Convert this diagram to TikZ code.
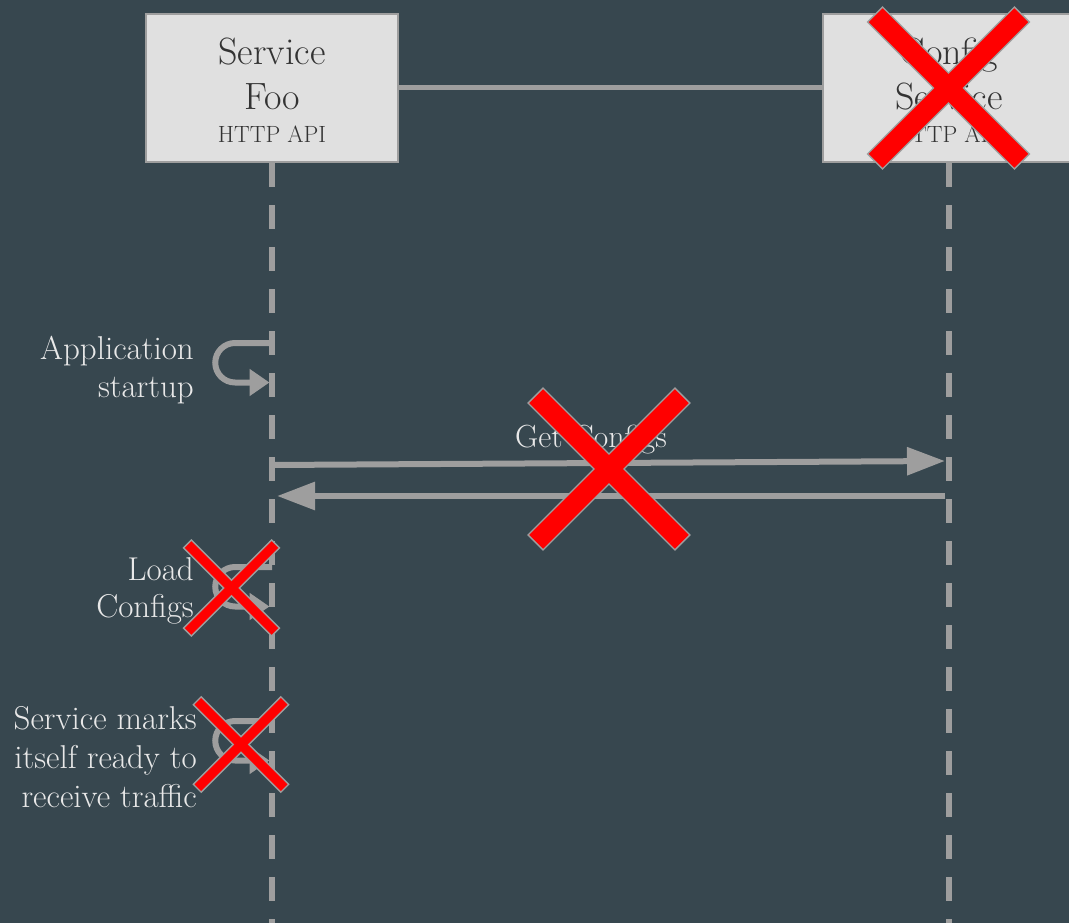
\documentclass[tikz,border=0pt]{standalone}
\usetikzlibrary{arrows.meta,calc}
\definecolor{bg}{HTML}{37474F}
\definecolor{ln}{HTML}{9E9E9E}
\definecolor{boxfill}{HTML}{E0E0E0}
\definecolor{boxtext}{HTML}{333333}
\definecolor{lbl}{HTML}{E8E8E8}
\definecolor{xred}{HTML}{FF0000}
\newcommand\drawcross[4]{%
  \begin{scope}[shift={(#1,#2)}]
    \draw[ln, line width=3pt, rotate=45] (-#3,-#4) rectangle (#3,#4);
    \draw[ln, line width=3pt, rotate=-45] (-#3,-#4) rectangle (#3,#4);
    \fill[xred, rotate=45] (-#3,-#4) rectangle (#3,#4);
    \fill[xred, rotate=-45] (-#3,-#4) rectangle (#3,#4);
  \end{scope}}
\begin{document}
\begin{tikzpicture}[x=1pt,y=-1pt,
  actor/.style={draw=ln, line width=2.5pt, fill=boxfill, minimum width=252pt, minimum height=148pt, inner sep=0},
  title/.style={text=boxtext, font=\fontsize{38}{45}\selectfont, anchor=base, inner sep=0},
  sub/.style={text=boxtext, font=\fontsize{23.5}{28}\selectfont, anchor=base, inner sep=0},
  lifeline/.style={draw=ln, line width=6pt, dash pattern=on 24pt off 18pt},
  msg/.style={draw=ln, line width=6pt, -{Triangle[length=38pt,width=27pt]}},
  selfmsg/.style={draw=ln, line width=6pt, -{Triangle[length=20pt,width=26pt]}},
  note/.style={text=lbl, align=right, anchor=north east, inner sep=0},
  msglabel/.style={text=lbl, font=\fontsize{32}{38}\selectfont, anchor=base, inner sep=0},
  link/.style={draw=ln, line width=5pt},
]
\useasboundingbox (0,0) rectangle (1069,923);
\fill[bg] (0,0) rectangle (1069,923);
\coordinate (bottom) at (0,923);

% actors
\node[actor] (foo) at (272,88) {};
\node[actor] (cfg) at (949,88) {};
\draw[link] (foo.east) -- (cfg.west);

\node[title] (foo1) at (272,65) {Service};
\node[title] (foo2) at (272,110) {Foo};
\node[sub] (foo3) at (272,143) {HTTP API};
\node[title] (cfg1) at (949,65) {Config};
\node[title] (cfg2) at (949,110) {Service};
\node[sub] (cfg3) at (949,143) {HTTP API};

% lifelines
\draw[lifeline] (foo.south) -- (foo.south |- bottom);
\draw[lifeline] (cfg.south) -- (cfg.south |- bottom);

% self messages
\coordinate (s1) at (272,343); \coordinate (e1) at (269.5,382.5);
\draw[selfmsg] (s1) -- (235,343) arc[start angle=270,end angle=90,radius=19.75] -- (e1);
\coordinate (s2) at (272,567); \coordinate (e2) at (269.5,606.5);
\draw[selfmsg] (s2) -- (235,567) arc[start angle=270,end angle=90,radius=19.75] -- (e2);
\coordinate (s3) at (272,721); \coordinate (e3) at (269.5,760.5);
\draw[selfmsg] (s3) -- (235,721) arc[start angle=270,end angle=90,radius=19.75] -- (e3);

\node[note, font=\fontsize{33}{38}\selectfont] (n1) at (194,336.1) {Application\\startup};
\node[note, font=\fontsize{33}{37}\selectfont] (n2) at (194,557.1) {Load\\Configs};
\node[note, font=\fontsize{33}{39}\selectfont] (n3) at (197,706.1) {Service marks\\itself ready to\\receive traffic};

% messages
\coordinate (m1s) at (272,465); \coordinate (m1e) at (945,461);
\draw[msg] (m1s) -- (m1e);
\coordinate (m2s) at (945,496); \coordinate (m2e) at (277,496);
\draw[msg] (m2s) -- (m2e);
\node[msglabel] (ml) at (591,447) {Get Configs};

% crosses
\drawcross{948.5}{88}{103}{9.75}
\drawcross{609}{469}{103}{9.75}
\drawcross{231.5}{588}{61.5}{4.75}
\drawcross{241}{744.5}{61}{4.75}
\end{tikzpicture}
\end{document}
